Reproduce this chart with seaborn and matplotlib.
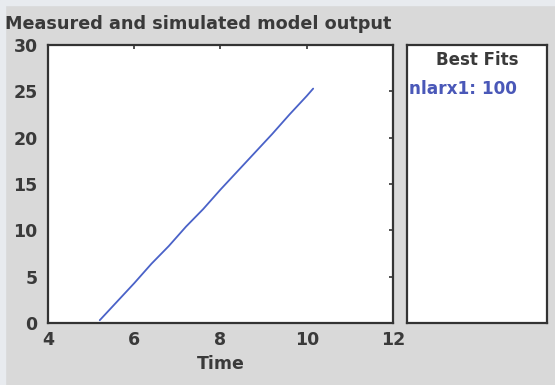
import matplotlib
matplotlib.use('Agg')
import matplotlib.pyplot as plt
from matplotlib.patches import Rectangle
import seaborn as sns
import pandas as pd

# Datos
tiempo = [5.2, 5.6, 6.0, 6.4, 6.8, 7.2, 7.6, 8.0, 8.4, 8.8, 9.2, 9.6, 10.0, 10.15]
salida = [0.3, 2.3, 4.3, 6.4, 8.3, 10.4, 12.3, 14.4, 16.4, 18.4, 20.4, 22.5, 24.5, 25.3]
xticks = [4, 6, 8, 10, 12]
yticks = [0, 5, 10, 15, 20, 25, 30]
modelo = 'nlarx1'
ajuste = 100

df = pd.DataFrame({'Time': tiempo, 'y': salida})

sns.set_style('white')
plt.rcParams['font.family'] = ['DejaVu Sans']

fondo = '#d9d9d9'
texto = '#3a3a3a'
fig = plt.figure(figsize=(5.55, 3.85), dpi=100, facecolor=fondo)

# borde claro arriba e izquierda
fig.patches.append(Rectangle((0, 0.988), 1, 0.012, transform=fig.transFigure,
                             color='#e8ebef', zorder=0))
fig.patches.append(Rectangle((0, 0), 0.009, 1, transform=fig.transFigure,
                             color='#e8ebef', zorder=0))

ax = fig.add_axes([0.0865, 0.161, 0.6215, 0.722])
sns.lineplot(data=df, x='Time', y='y', ax=ax, color='#4a62c8', linewidth=1.3)
ax.set_xlim(4, 12)
ax.set_ylim(0, 30)
ax.set_xticks(xticks)
ax.set_yticks(yticks)
ax.set_xlabel('Time', fontsize=12.5, fontweight='bold', color=texto, labelpad=4)
ax.set_ylabel('')
ax.tick_params(direction='in', top=True, right=True, length=3, width=1.2,
               color='#333333', labelsize=12.5, labelcolor=texto, pad=6)
ax.tick_params(axis='y', pad=7.5)
for lab in ax.get_xticklabels() + ax.get_yticklabels():
    lab.set_fontweight('bold')
for s in ax.spines.values():
    s.set_color('#333333')
    s.set_linewidth(1.6)
ax.set_facecolor('white')

# Panel de mejores ajustes
ax2 = fig.add_axes([0.733, 0.161, 0.253, 0.722])
ax2.set_xticks([])
ax2.set_yticks([])
ax2.set_facecolor('white')
for s in ax2.spines.values():
    s.set_color('#333333')
    s.set_linewidth(1.6)
ax2.text(0.5, 0.98, 'Best Fits', transform=ax2.transAxes, ha='center', va='top',
         fontsize=12, fontweight='bold', color=texto)
ax2.text(0.015, 0.873, f'{modelo}: {ajuste}', transform=ax2.transAxes, ha='left', va='top',
         fontsize=12.2, fontweight='bold', color='#4a58b8')

fig.text(0.009, 0.962, 'Measured and simulated model output', ha='left', va='top',
         fontsize=12.7, fontweight='bold', color=texto)

fig.savefig('out.png', dpi=100, facecolor=fondo)
